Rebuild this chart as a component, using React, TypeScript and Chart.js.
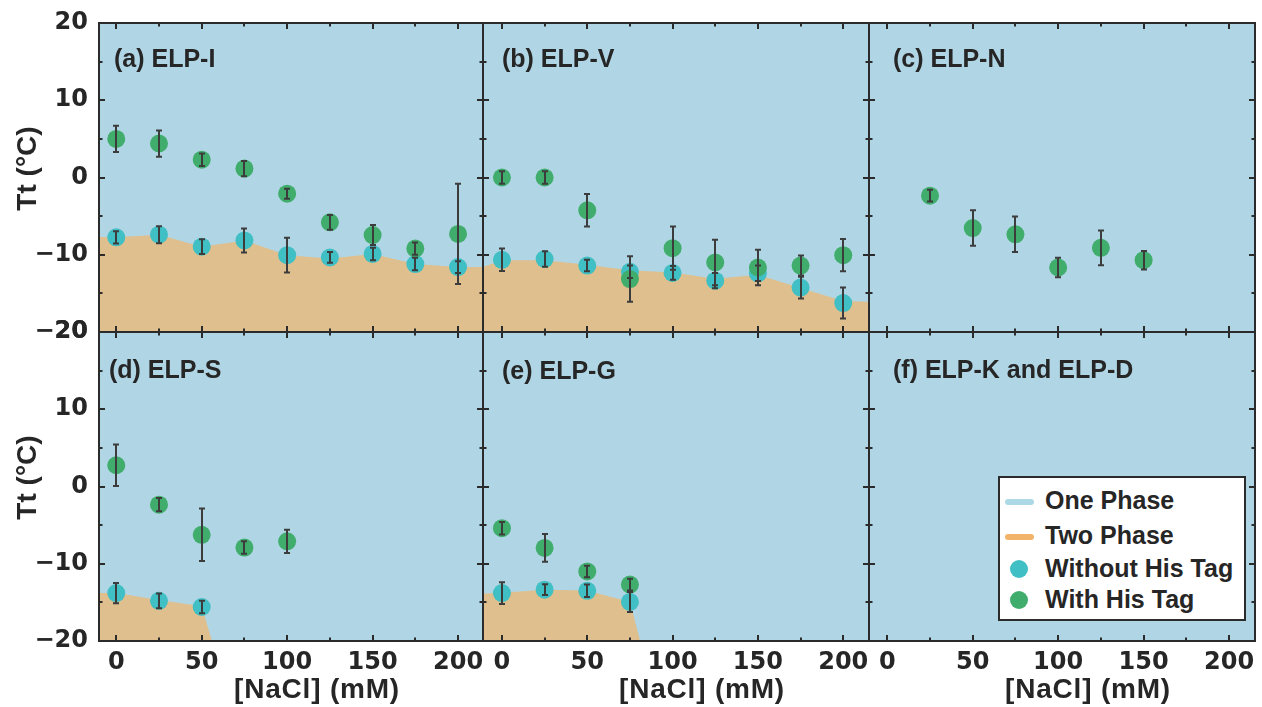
import React, { useEffect, useRef } from 'react';
import { Chart, registerables } from 'chart.js';

Chart.register(...registerables);

// ---------------- data ----------------
const NACL = [0, 25, 50, 75, 100, 125, 150, 175, 200];

// (a) ELP-I
const I_WITH = [5.0, 4.4, 2.3, 1.15, -2.1, -5.8, -7.45, -9.2, -7.3];
const I_WITH_ERR = [1.7, 1.7, 0.8, 1.0, 0.65, 0.95, 1.3, 0.8, 6.5];
const I_WITHOUT = [-7.75, -7.4, -8.95, -8.15, -10.05, -10.35, -9.9, -11.2, -11.6];
const I_WITHOUT_ERR = [0.8, 1.1, 0.95, 1.55, 2.25, 0.7, 0.8, 0.8, 0.75];
const I_BOUND_X = [-12, 0, 25, 50, 75, 100, 125, 150, 175, 200, 216];
const I_BOUND = [-7.7, -7.75, -7.4, -8.95, -8.15, -10.05, -10.5, -9.9, -11.2, -11.6, -11.6];

// (b) ELP-V
const V_WITH = [0, 0, -4.25, -13.15, -9.15, -11.0, -11.65, -11.4, -10.05];
const V_WITH_ERR = [0.8, 0.8, 2.1, 2.95, 2.8, 2.95, 2.3, 1.3, 2.1];
const V_WITHOUT = [-10.65, -10.55, -11.4, -12.2, -12.35, -13.35, -12.4, -14.25, -16.25];
const V_WITHOUT_ERR = [1.45, 1.0, 0.75, 0.8, 0.9, 1.0, 1.0, 1.4, 2.0];
const V_BOUND_X = [-12, 0, 25, 50, 75, 100, 125, 150, 175, 200, 216];
const V_BOUND = [-11.65, -10.7, -10.7, -11.3, -12.0, -12.3, -13.1, -12.6, -14.3, -16.0, -16.1];

// (c) ELP-N
const N_X = [25, 50, 75, 100, 125, 150];
const N_WITH = [-2.35, -6.55, -7.35, -11.65, -9.1, -10.7];
const N_WITH_ERR = [0.75, 2.3, 2.3, 1.25, 2.25, 1.2];

// (d) ELP-S
const S_WITH_X = [0, 25, 50, 75, 100];
const S_WITH = [2.75, -2.35, -6.25, -7.9, -7.1];
const S_WITH_ERR = [2.7, 0.85, 3.4, 0.8, 1.5];
const S_WITHOUT_X = [0, 25, 50];
const S_WITHOUT = [-13.8, -14.8, -15.6];
const S_WITHOUT_ERR = [1.3, 0.95, 0.8];
const S_BOUND_X = [-12, 0, 25, 50, 56];
const S_BOUND = [-13.8, -13.8, -14.7, -15.5, -20];

// (e) ELP-G
const G_X = [0, 25, 50, 75];
const G_WITH = [-5.4, -7.95, -11.0, -12.7];
const G_WITH_ERR = [0.8, 1.8, 0.75, 0.75];
const G_WITHOUT = [-13.8, -13.35, -13.5, -14.95];
const G_WITHOUT_ERR = [1.4, 0.7, 0.8, 1.3];
const G_BOUND_X = [-12, 0, 25, 50, 75, 81];
const G_BOUND = [-13.85, -13.75, -13.35, -13.45, -14.95, -20];

const X_TICKS = [0, 25, 50, 75, 100, 125, 150, 175, 200];
const Y_TICKS = [-20, -15, -10, -5, 0, 5, 10, 15, 20];

const PANEL_LABELS = ['(a) ELP-I', '(b) ELP-V', '(c) ELP-N', '(d) ELP-S', '(e) ELP-G', '(f) ELP-K and ELP-D'];
const LEGEND_LABELS = ['One Phase', 'Two Phase', 'Without His Tag', 'With His Tag'];
const Y_TITLE = 'Tt (°C)';
const X_TITLE = '[NaCl] (mM)';

// ---------------- style ----------------
const W = 1262;
const H = 707;
const COL_EDGES = [99, 483, 869, 1255];
const ROW_EDGES = [23, 332, 641];
const X_RANGES = [
  [-10.1, 214.6],
  [-11.1, 215.1],
  [-10.7, 215.2],
];
const Y_AXIS_W = 80;
const X_AXIS_H = 50;
const BLUE = '#B0D6E5';
const TAN = '#DFBF8E';
const CYAN = '#40BFC4';
const GREEN = '#40AD6C';
const INK = '#262626';
const FRAME = '#2b2b2b';
const ERR = '#3c3c3c';
const LEG_BLUE = '#ADD8E6';
const LEG_ORANGE = '#F2B46B';
const FONT = '"Liberation Sans", Arial, Helvetica, sans-serif';
const TICK_FONT = '"DejaVu Sans", "Liberation Sans", Arial, sans-serif';

type Series = { x: number[]; y: number[]; e: number[] };
type Panel = {
  idx: number;
  col: number;
  row: number;
  labelX: number;
  labelY: number;
  withTag?: Series;
  without?: Series;
  bound?: { x: number[]; y: number[] };
  xLabels: boolean;
  yLabels: boolean;
};

const PANELS: Panel[] = [
  {
    idx: 0, col: 0, row: 0, labelX: 114, labelY: 67,
    withTag: { x: NACL, y: I_WITH, e: I_WITH_ERR },
    without: { x: NACL, y: I_WITHOUT, e: I_WITHOUT_ERR },
    bound: { x: I_BOUND_X, y: I_BOUND },
    xLabels: false, yLabels: true,
  },
  {
    idx: 1, col: 1, row: 0, labelX: 502, labelY: 67,
    withTag: { x: NACL, y: V_WITH, e: V_WITH_ERR },
    without: { x: NACL, y: V_WITHOUT, e: V_WITHOUT_ERR },
    bound: { x: V_BOUND_X, y: V_BOUND },
    xLabels: false, yLabels: false,
  },
  {
    idx: 2, col: 2, row: 0, labelX: 893, labelY: 67,
    withTag: { x: N_X, y: N_WITH, e: N_WITH_ERR },
    xLabels: false, yLabels: false,
  },
  {
    idx: 3, col: 0, row: 1, labelX: 109, labelY: 378,
    withTag: { x: S_WITH_X, y: S_WITH, e: S_WITH_ERR },
    without: { x: S_WITHOUT_X, y: S_WITHOUT, e: S_WITHOUT_ERR },
    bound: { x: S_BOUND_X, y: S_BOUND },
    xLabels: true, yLabels: true,
  },
  {
    idx: 4, col: 1, row: 1, labelX: 502, labelY: 379,
    withTag: { x: G_X, y: G_WITH, e: G_WITH_ERR },
    without: { x: G_X, y: G_WITHOUT, e: G_WITHOUT_ERR },
    bound: { x: G_BOUND_X, y: G_BOUND },
    xLabels: true, yLabels: false,
  },
  {
    idx: 5, col: 2, row: 1, labelX: 893, labelY: 378,
    xLabels: true, yLabels: false,
  },
];

const fmt = (v: number) => (v < 0 ? '\u2212' + Math.abs(v) : String(v));
const pts = (xs: number[], ys: number[]) => xs.map((x, i) => ({ x, y: ys[i] }));

const panelPlugin = {
  id: 'panelDeco',
  beforeDatasetsDraw(chart: any) {
    const { ctx, chartArea: a } = chart;
    ctx.save();
    ctx.fillStyle = BLUE;
    ctx.fillRect(a.left, a.top, a.right - a.left, a.bottom - a.top);
    ctx.restore();
  },
  afterDatasetsDraw(chart: any, _args: any, opts: any) {
    const { ctx, chartArea: a } = chart;
    const xs = chart.scales.x;
    const ys = chart.scales.y;

    // error bars
    ctx.save();
    ctx.beginPath();
    ctx.rect(a.left, a.top, a.right - a.left, a.bottom - a.top);
    ctx.clip();
    ctx.strokeStyle = ERR;
    ctx.lineWidth = 2;
    chart.data.datasets.forEach((ds: any) => {
      if (!ds.errs) return;
      ds.data.forEach((p: any, j: number) => {
        const x = Math.round(xs.getPixelForValue(p.x));
        const y1 = ys.getPixelForValue(p.y + ds.errs[j]);
        const y2 = ys.getPixelForValue(p.y - ds.errs[j]);
        ctx.beginPath();
        ctx.moveTo(x, y1);
        ctx.lineTo(x, y2);
        ctx.moveTo(x - 3, y1);
        ctx.lineTo(x + 3, y1);
        ctx.moveTo(x - 3, y2);
        ctx.lineTo(x + 3, y2);
        ctx.stroke();
      });
    });
    ctx.restore();

    // ticks + frame
    ctx.save();
    ctx.strokeStyle = FRAME;
    ctx.lineWidth = 2;
    ctx.beginPath();
    X_TICKS.forEach((v) => {
      const px = Math.round(xs.getPixelForValue(v));
      const len = v % 50 === 0 ? 6 : 3.5;
      ctx.moveTo(px, a.bottom);
      ctx.lineTo(px, a.bottom - len);
      ctx.moveTo(px, a.top);
      ctx.lineTo(px, a.top + len);
    });
    Y_TICKS.forEach((v) => {
      const py = Math.round(ys.getPixelForValue(v));
      const len = v % 10 === 0 ? 6 : 3.5;
      ctx.moveTo(a.left, py);
      ctx.lineTo(a.left + len, py);
      ctx.moveTo(a.right, py);
      ctx.lineTo(a.right - len, py);
    });
    ctx.stroke();
    ctx.strokeRect(a.left, a.top, a.right - a.left, a.bottom - a.top);
    ctx.restore();

    // texts
    ctx.save();
    ctx.fillStyle = INK;
    ctx.font = `bold 25px ${FONT}`;
    ctx.textAlign = 'left';
    ctx.textBaseline = 'alphabetic';
    ctx.fillText(opts.label, opts.labelX, opts.labelY);
    if (opts.yTitle) {
      ctx.save();
      ctx.translate(28, (a.top + a.bottom) / 2 - 9);
      ctx.rotate(-Math.PI / 2);
      ctx.font = `bold 28px ${FONT}`;
      ctx.textAlign = 'center';
      ctx.textBaseline = 'middle';
      ctx.fillText(Y_TITLE, 0, 0);
      ctx.restore();
    }
    if (opts.xTitle) {
      ctx.font = `bold 28px ${FONT}`;
      ctx.letterSpacing = '0.8px';
      ctx.textAlign = 'center';
      ctx.textBaseline = 'middle';
      ctx.fillText(X_TITLE, (a.left + a.right) / 2 + 26, 690.5);
    }
    ctx.restore();
  },
};

function buildConfig(p: Panel): any {
  const l = COL_EDGES[p.col];
  const r = COL_EDGES[p.col + 1];
  const t = ROW_EDGES[p.row];
  const b = ROW_EDGES[p.row + 1];
  const yW = p.yLabels ? Y_AXIS_W : 0;
  const xH = p.xLabels ? X_AXIS_H : 0;
  const datasets: any[] = [];
  if (p.withTag) {
    datasets.push({
      type: 'scatter',
      label: LEGEND_LABELS[3],
      data: pts(p.withTag.x, p.withTag.y),
      errs: p.withTag.e,
      backgroundColor: GREEN,
      borderWidth: 0,
      pointRadius: 9,
      pointHoverRadius: 9,
      order: 1,
    });
  }
  if (p.without) {
    datasets.push({
      type: 'scatter',
      label: LEGEND_LABELS[2],
      data: pts(p.without.x, p.without.y),
      errs: p.without.e,
      backgroundColor: CYAN,
      borderWidth: 0,
      pointRadius: 9,
      pointHoverRadius: 9,
      order: 2,
    });
  }
  if (p.bound) {
    datasets.push({
      type: 'line',
      label: LEGEND_LABELS[1],
      data: pts(p.bound.x, p.bound.y),
      fill: 'start',
      backgroundColor: TAN,
      borderColor: 'rgba(0,0,0,0)',
      borderWidth: 0,
      pointRadius: 0,
      tension: 0,
      order: 3,
    });
  }
  const tickFont = { family: TICK_FONT, size: 24, weight: 'bold' as const };
  return {
    type: 'scatter',
    data: { datasets },
    options: {
      animation: false,
      responsive: false,
      events: [],
      layout: {
        padding: { left: l - yW, top: t, right: W - r, bottom: H - b - xH },
        autoPadding: false,
      },
      plugins: {
        legend: { display: false },
        tooltip: { enabled: false },
        panelDeco: {
          label: PANEL_LABELS[p.idx],
          labelX: p.labelX,
          labelY: p.labelY,
          yTitle: p.col === 0,
          xTitle: p.row === 1,
        },
      },
      scales: {
        x: {
          type: 'linear',
          min: X_RANGES[p.col][0],
          max: X_RANGES[p.col][1],
          grid: { display: false, drawTicks: false },
          border: { display: false },
          afterBuildTicks: (s: any) => {
            s.ticks = X_TICKS.map((v) => ({ value: v }));
          },
          afterFit: (s: any) => {
            s.height = xH;
            s.paddingLeft = 0;
            s.paddingRight = 0;
          },
          ticks: {
            display: p.xLabels,
            autoSkip: false,
            maxRotation: 0,
            minRotation: 0,
            padding: 7,
            color: INK,
            font: tickFont,
            callback: (v: number) => (v % 50 === 0 ? fmt(v) : ''),
          },
        },
        y: {
          type: 'linear',
          min: -20,
          max: 20,
          grid: { display: false, drawTicks: false },
          border: { display: false },
          afterBuildTicks: (s: any) => {
            s.ticks = Y_TICKS.map((v) => ({ value: v }));
          },
          afterFit: (s: any) => {
            s.width = yW;
            s.paddingTop = 0;
            s.paddingBottom = 0;
          },
          ticks: {
            display: p.yLabels,
            autoSkip: false,
            padding: 11,
            color: INK,
            font: tickFont,
            callback: (v: number) => (v % 10 === 0 ? fmt(v) : ''),
          },
        },
      },
    },
    plugins: [panelPlugin],
  };
}

function PanelChart({ p }: { p: Panel }) {
  const ref = useRef<HTMLCanvasElement>(null);
  useEffect(() => {
    if (!ref.current) return;
    const chart = new Chart(ref.current, buildConfig(p));
    return () => chart.destroy();
  }, [p]);
  return (
    <canvas
      ref={ref}
      width={W}
      height={H}
      style={{ position: 'absolute', left: 0, top: 0, width: W, height: H }}
    />
  );
}

const legendText: React.CSSProperties = {
  position: 'absolute',
  left: 1045,
  font: `bold 25px ${FONT}`,
  lineHeight: '25px',
  color: INK,
  whiteSpace: 'nowrap',
};

export default function App() {
  useEffect(() => {
    document.body.style.margin = '0';
  }, []);
  return (
    <div style={{ position: 'relative', width: W, height: H, background: '#fff', overflow: 'hidden' }}>
      {PANELS.map((p) => (
        <PanelChart key={p.idx} p={p} />
      ))}
      <div
        style={{
          position: 'absolute',
          left: 998,
          top: 476,
          width: 248,
          height: 145,
          boxSizing: 'border-box',
          background: '#fff',
          border: `2px solid ${FRAME}`,
        }}
      />
      <div style={{ position: 'absolute', left: 1005, top: 499, width: 29, height: 6, borderRadius: 3, background: LEG_BLUE }} />
      <div style={{ position: 'absolute', left: 1005, top: 534, width: 29, height: 6, borderRadius: 3, background: LEG_ORANGE }} />
      <div style={{ position: 'absolute', left: 1010, top: 560, width: 18, height: 18, borderRadius: 9, background: CYAN }} />
      <div style={{ position: 'absolute', left: 1010, top: 591, width: 18, height: 18, borderRadius: 9, background: GREEN }} />
      <div style={{ ...legendText, top: 488 }}>{LEGEND_LABELS[0]}</div>
      <div style={{ ...legendText, top: 523 }}>{LEGEND_LABELS[1]}</div>
      <div style={{ ...legendText, top: 556 }}>{LEGEND_LABELS[2]}</div>
      <div style={{ ...legendText, top: 587 }}>{LEGEND_LABELS[3]}</div>
    </div>
  );
}
